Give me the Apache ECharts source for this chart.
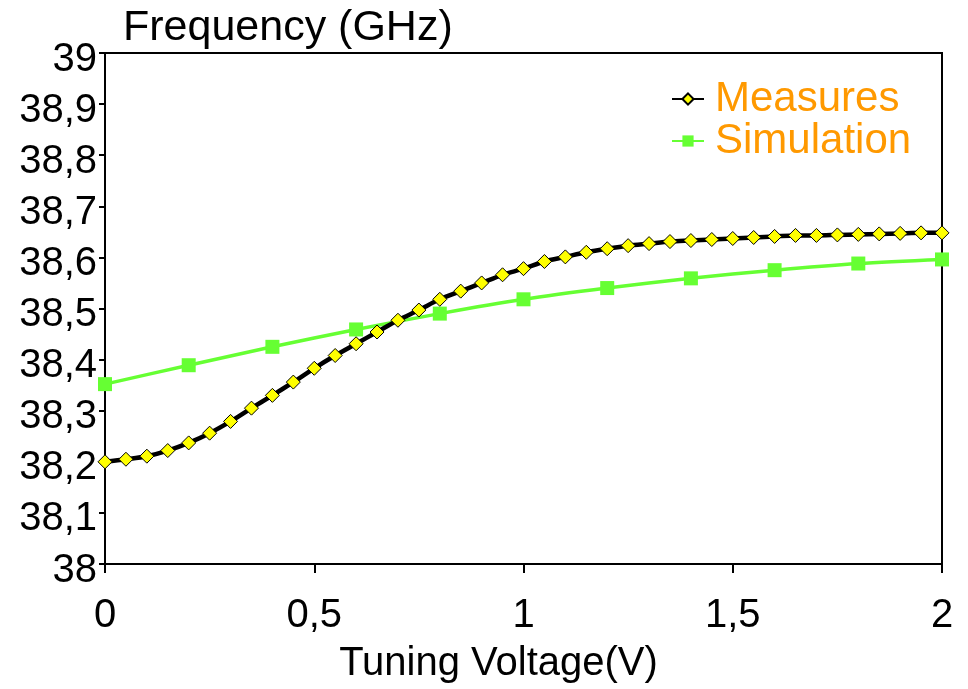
<!DOCTYPE html>
<html>
<head>
<meta charset="utf-8">
<script src="https://cdn.jsdelivr.net/npm/echarts@6/dist/echarts.min.js"></script>
<style>
    html, body { margin: 0; padding: 0; background: #ffffff; }
    #chart01 { width: 968px; height: 689px; }
</style>
</head>
<body>
<div id="chart01"></div>
<script>
// tuning voltage (V) / frequency (GHz)
var measureVolts = [0, 0.05, 0.1, 0.15, 0.2, 0.25, 0.3, 0.35, 0.4, 0.45, 0.5, 0.55, 0.6, 0.65, 0.7, 0.75, 0.8, 0.85, 0.9, 0.95,
    1, 1.05, 1.1, 1.15, 1.2, 1.25, 1.3, 1.35, 1.4, 1.45, 1.5, 1.55, 1.6, 1.65, 1.7, 1.75, 1.8, 1.85, 1.9, 1.95, 2];
var measureFreq = [38.200, 38.205, 38.211, 38.222, 38.237, 38.256, 38.279, 38.305, 38.330, 38.356, 38.383, 38.408, 38.431, 38.454,
    38.477, 38.497, 38.518, 38.534, 38.550, 38.566, 38.578, 38.592, 38.601, 38.610, 38.617, 38.623, 38.627, 38.631, 38.633,
    38.635, 38.637, 38.639, 38.641, 38.643, 38.643, 38.644, 38.645, 38.646, 38.647, 38.648, 38.648];
var simVolts = [0, 0.2, 0.4, 0.6, 0.8, 1, 1.2, 1.4, 1.6, 1.8, 2];
var simFreq = [38.352, 38.389, 38.425, 38.459, 38.490, 38.518, 38.540, 38.559, 38.575, 38.588, 38.596];

function pairs(xs, ys) {
    var out = [];
    for (var i = 0; i < xs.length; i++) out.push([xs[i], ys[i]]);
    return out;
}

function comma(v) {
    return String(Math.round(v * 10) / 10).replace('.', ',');
}

function chart01(id) {
    var myChart = echarts.init(document.getElementById(id));
    var font = 'Liberation Sans, Arial, sans-serif';
    var option = {
        animation: false,
        textStyle: { fontFamily: font },
        title: {
            text: 'Frequency (GHz)',
            left: 118,
            top: 2,
            textStyle: { fontSize: 43, fontWeight: 'normal', color: '#000', fontFamily: font }
        },
        grid: {
            left: 105,
            right: 26,
            top: 53,
            bottom: 125,
            outerBoundsMode: 'none',
            show: true,
            borderColor: '#000',
            borderWidth: 2
        },
        legend: {
            orient: 'vertical',
            left: 666,
            top: 73,
            itemWidth: 32,
            itemHeight: 14,
            itemGap: 0,
            textStyle: { fontSize: 42, color: '#ff9900', fontFamily: font, padding: [0, 0, 0, 6] },
            data: ['Measures', 'Simulation']
        },
        xAxis: {
            type: 'value',
            min: 0,
            max: 2,
            interval: 0.5,
            name: 'Tuning Voltage(V)',
            nameLocation: 'middle',
            nameGap: 80,
            nameTextStyle: { fontSize: 40, color: '#000', fontFamily: font, padding: [0, 50, 0, 0] },
            axisLine: { show: true, lineStyle: { color: '#000', width: 2 } },
            axisTick: { show: true, inside: false, length: 9, lineStyle: { color: '#000', width: 2 } },
            splitLine: { show: false },
            axisLabel: {
                fontSize: 40,
                color: '#000',
                margin: 32,
                formatter: comma
            }
        },
        yAxis: {
            type: 'value',
            min: 38,
            max: 39,
            interval: 0.1,
            axisLine: { show: true, lineStyle: { color: '#000', width: 2 } },
            axisTick: { show: true, inside: false, length: 6, lineStyle: { color: '#000', width: 2 } },
            splitLine: { show: false },
            axisLabel: {
                color: '#000',
                margin: 8,
                formatter: function (v) {
                    return '{t|' + comma(v) + '}';
                },
                rich: {
                    t: { fontSize: 40, color: '#000', fontFamily: font, padding: [13, 0, 0, 0] }
                }
            }
        },
        series: [
            {
                name: 'Measures',
                type: 'line',
                smooth: 0.3,
                symbol: 'diamond',
                symbolSize: 14,
                lineStyle: { color: '#000', width: 4.5 },
                itemStyle: { color: '#ffff00', borderColor: '#000', borderWidth: 1 },
                z: 3,
                data: pairs(measureVolts, measureFreq)
            },
            {
                name: 'Simulation',
                type: 'line',
                smooth: 0.3,
                symbol: 'rect',
                symbolSize: 14,
                lineStyle: { color: '#66ff33', width: 3.5 },
                itemStyle: { color: '#66ff33', borderWidth: 0 },
                z: 2,
                data: pairs(simVolts, simFreq)
            }
        ]
    };

    myChart.setOption(option);
    return myChart;
}

var chartInit01 = chart01('chart01');
window.addEventListener('resize', function () {
    chartInit01.resize();
});
</script>
</body>
</html>
